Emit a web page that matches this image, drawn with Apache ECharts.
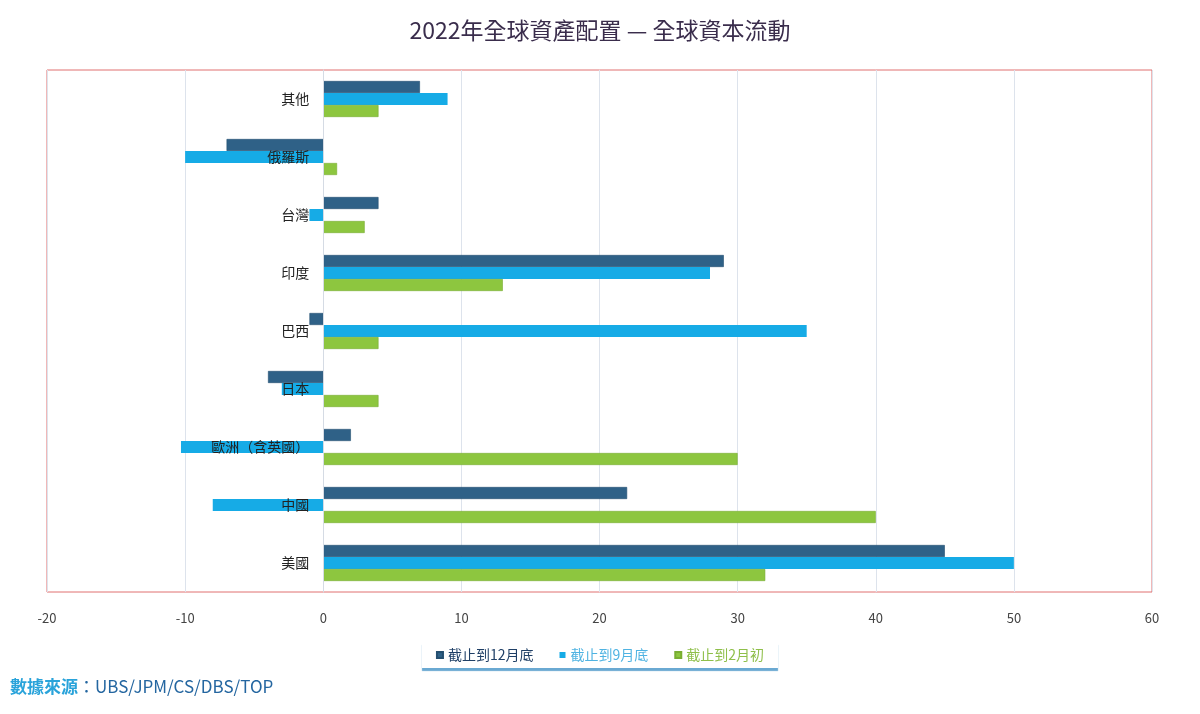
<!DOCTYPE html>
<html>
<head>
<meta charset="utf-8">
<title>2022年全球資產配置 — 全球資本流動</title>
<script src="https://cdn.jsdelivr.net/npm/echarts@6/dist/echarts.min.js"></script>
<style>
  html, body { margin: 0; padding: 0; background: #fff; }
  #chart { width: 1200px; height: 714px; }
</style>
</head>
<body>
<div id="chart"></div>
<script>
'use strict';
// 類別（由下到上）
var categories = ['美國', '中國', '歐洲（含英國）', '日本', '巴西', '印度', '台灣', '俄羅斯', '其他'];
// 各期資金流動
var decValues = [45, 22, 2, -4, -1, 29, 4, -7, 7];        // 截止到12月底
var sepValues = [50, -8, -10.3, -3, 35, 28, -1, -10, 9];  // 截止到9月底
var febValues = [32, 40, 30, 4, 4, 13, 3, 1, 4];          // 截止到2月初
var seriesNames = ['截止到12月底', '截止到9月底', '截止到2月初'];
var xTicks = { min: -20, max: 60, interval: 10 };

var colors = ['#2f6187', '#16abe6', '#8dc63f'];
var font = '"Noto Sans CJK TC", "Noto Sans CJK SC", sans-serif';

var gridLeft = 47, gridRight = 48;
var gridWidth = 1200 - gridLeft - gridRight;
// 把類別軸移到 x = 0 的位置
var zeroOffset = gridWidth * (0 - xTicks.min) / (xTicks.max - xTicks.min);

var myChart = echarts.init(document.getElementById('chart'));
var option = {
    backgroundColor: '#ffffff',
    title: {
        text: '2022年全球資產配置 — 全球資本流動',
        left: 'center',
        top: 14,
        textStyle: { fontFamily: font, fontSize: 23, fontWeight: 'normal', color: '#3a2d4c' }
    },
    legend: {
        data: [
            { name: seriesNames[0], textStyle: { color: '#1f3f66' } },
            { name: seriesNames[1], textStyle: { color: '#4fb3e2' } },
            { name: seriesNames[2], textStyle: { color: '#8fbf4a' } }
        ],
        left: 'center',
        top: 642,
        icon: 'rect',
        itemWidth: 6,
        itemHeight: 6,
        itemGap: 26,
        padding: [6, 14, 6, 14],
        backgroundColor: '#ffffff',
        shadowColor: 'rgba(90,160,205,0.9)',
        shadowOffsetY: 3,
        shadowBlur: 1,
        textStyle: { fontFamily: font, fontSize: 14 }
    },
    grid: {
        left: gridLeft,
        right: gridRight,
        top: 70,
        bottom: 122,
        outerBoundsMode: 'none',
        containLabel: false,
        show: true,
        borderColor: '#e07070',
        borderWidth: 1
    },
    xAxis: {
        type: 'value',
        min: xTicks.min,
        max: xTicks.max,
        interval: xTicks.interval,
        axisLine: { show: false },
        axisTick: { show: false },
        axisLabel: { margin: 20, color: '#444', fontSize: 13, fontFamily: font },
        splitLine: { lineStyle: { color: '#dde3ec' } }
    },
    yAxis: {
        type: 'category',
        data: categories,
        offset: -zeroOffset,
        z: 5,
        axisLine: { onZero: false, lineStyle: { color: '#d5dbe4' } },
        axisTick: { show: false },
        axisLabel: { color: '#222', fontSize: 14, fontFamily: font, margin: 14 }
    },
    series: [
        {
            name: seriesNames[0],
            type: 'bar',
            data: decValues,
            barWidth: 12,
            barGap: '0%',
            itemStyle: { color: colors[0], borderColor: '#244f70', borderWidth: 0.6 }
        },
        {
            name: seriesNames[1],
            type: 'bar',
            data: sepValues,
            barWidth: 12,
            barGap: '0%',
            itemStyle: { color: colors[1] }
        },
        {
            name: seriesNames[2],
            type: 'bar',
            data: febValues,
            barWidth: 12,
            barGap: '0%',
            itemStyle: { color: colors[2], borderColor: '#79ad32', borderWidth: 0.6 }
        }
    ],
    graphic: [
        {
            type: 'text',
            left: 10,
            top: 678,
            style: {
                text: '{a|數據來源}{b|：UBS/JPM/CS/DBS/TOP}',
                rich: {
                    a: { fontFamily: font, fontSize: 17, fontWeight: 'bold', fill: '#29a3da' },
                    b: { fontFamily: font, fontSize: 17, fill: '#2466a0' }
                }
            }
        }
    ]
};
myChart.setOption(option);
</script>
</body>
</html>
